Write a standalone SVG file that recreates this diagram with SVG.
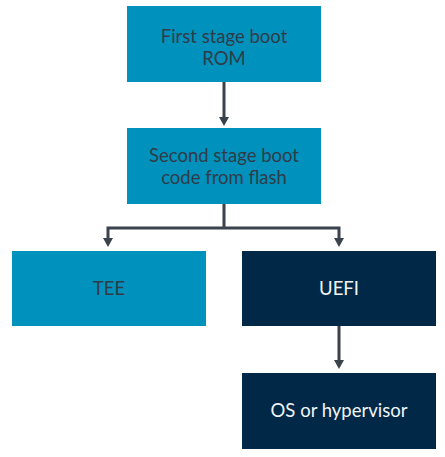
<svg xmlns="http://www.w3.org/2000/svg" width="445" height="457" viewBox="0 0 445 457">
<defs>
<style>
.light{fill:#0091bd;}
.dark{fill:#012947;}
.tl{fill:#2f3c48;font-family:Lato,"Liberation Sans",sans-serif;font-size:18.5px;text-anchor:middle;}
.td{fill:#f2f4f7;font-family:Lato,"Liberation Sans",sans-serif;font-size:18.5px;text-anchor:middle;}
.conn{stroke:#3a434c;stroke-width:3;fill:none;}
.head{fill:#3a434c;}
</style>
</defs>
<rect width="445" height="457" fill="#ffffff"/>
<g id="connectors">
<path class="conn" d="M224,82 V120"/>
<path class="head" d="M219,117 L229,117 L224,126 Z"/>
<path class="conn" d="M224,204 V228 M107,228 H340 M108,226.5 V240 M339,226.5 V240"/>
<path class="head" d="M103,238 L113,238 L108,247 Z"/>
<path class="head" d="M334,238 L344,238 L339,247 Z"/>
<path class="conn" d="M339,326 V362"/>
<path class="head" d="M334,360 L344,360 L339,369 Z"/>
</g>
<g id="node-rom">
<rect class="light" x="127" y="6" width="194" height="76"/>
<text class="tl" x="224" y="43">First stage boot</text>
<text class="tl" x="224" y="65">ROM</text>
</g>
<g id="node-flash">
<rect class="light" x="127" y="128" width="194" height="76"/>
<text class="tl" x="224" y="162">Second stage boot</text>
<text class="tl" x="224" y="184">code from flash</text>
</g>
<g id="node-tee">
<rect class="light" x="12" y="251" width="194" height="75"/>
<text class="tl" x="109" y="295">TEE</text>
</g>
<g id="node-uefi">
<rect class="dark" x="242" y="251" width="194" height="75"/>
<text class="td" x="339" y="295">UEFI</text>
</g>
<g id="node-os">
<rect class="dark" x="242" y="373" width="194" height="76"/>
<text class="td" x="339" y="417">OS or hypervisor</text>
</g>
</svg>
